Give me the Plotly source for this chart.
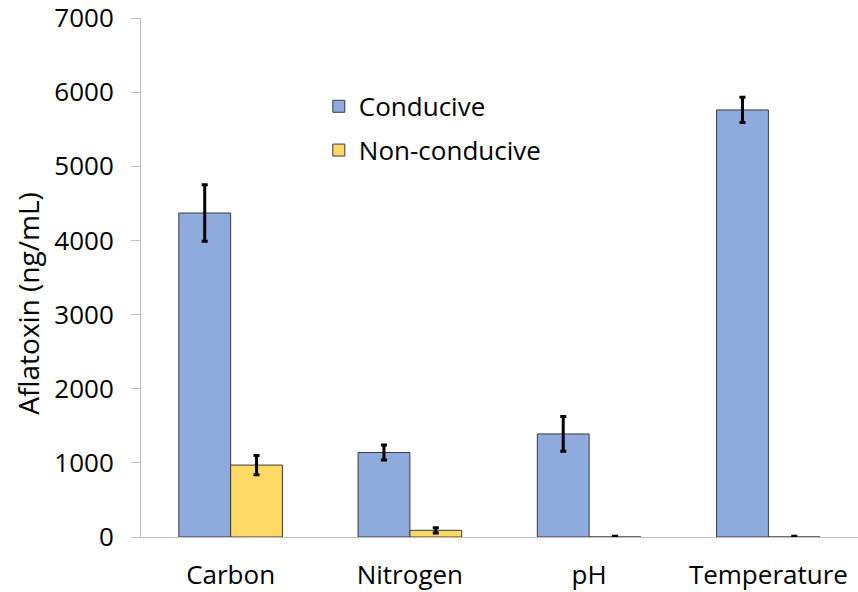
import plotly.graph_objects as go

categories = ["Carbon", "Nitrogen", "pH", "Temperature"]
conducive = [4370, 1140, 1390, 5760]
conducive_err = [380, 100, 235, 170]
nonconducive = [970, 90, 0, 0]
nonconducive_err = [130, 35, 10, 10]
y_ticks = [0, 1000, 2000, 3000, 4000, 5000, 6000, 7000]
y_title = "Aflatoxin (ng/mL)"

FONT = "'Open Sans', sans-serif"

fig = go.Figure()
fig.add_trace(go.Bar(
    name="Conducive", x=categories, y=conducive,
    marker=dict(color="#8FAADC", line=dict(color="#3A3A3A", width=1)),
    error_y=dict(type="data", array=conducive_err, color="black", thickness=3, width=3),
    legendgroup="a",
))
fig.add_trace(go.Bar(
    name="Non-conducive", x=categories, y=nonconducive,
    marker=dict(color="#FFD966", line=dict(color="#3A3A3A", width=1)),
    error_y=dict(type="data", array=nonconducive_err, color="black", thickness=3, width=3),
    legendgroup="b",
))

fig.update_layout(
    width=858, height=592,
    margin=dict(l=141, r=0, t=18, b=55),
    paper_bgcolor="white", plot_bgcolor="white",
    barmode="group", bargap=0.422, bargroupgap=0,
    font=dict(family=FONT, size=26, color="black"),
    legend=dict(x=0.248, y=0.875, xanchor="left", yanchor="top",
                font=dict(size=26), tracegroupgap=7,
                bgcolor="rgba(0,0,0,0)"),
    xaxis=dict(showline=True, linecolor="#BFBFBF", linewidth=1,
               ticks="", tickfont=dict(size=26), range=[-0.5, 3.5],
               ticklabelstandoff=15, automargin=False),
    yaxis=dict(range=[0, 7000], tickvals=y_ticks, showgrid=False,
               showline=True, linecolor="#BFBFBF", linewidth=1,
               ticks="outside", ticklen=9, tickcolor="#BFBFBF",
               tickfont=dict(size=26), zeroline=False, ticklabelstandoff=12,
               ticklabeloverflow="allow", automargin=False),
    annotations=[dict(text=y_title, xref="paper", yref="paper",
                      x=-0.158, y=0.449, textangle=-90, showarrow=False,
                      xanchor="center", yanchor="middle",
                      font=dict(size=28, family=FONT, color="black"))],
)

fig.write_html("out.html", post_script="document.body.style.margin='0';",
               config={"displayModeBar": False})
